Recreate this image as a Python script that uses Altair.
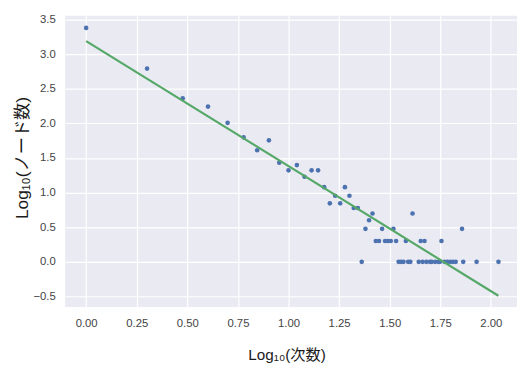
import altair as alt
import pandas as pd

# degree (k) and number of nodes with that degree
degree = [1, 2, 3, 4, 5, 6, 7, 8, 9, 10,
          11, 12, 13, 14, 15, 16, 17, 18, 19, 20,
          21, 22, 23, 24, 25, 26, 27, 28, 29, 30,
          31, 32, 33, 34, 35, 36, 37, 38, 39, 40,
          41, 44, 45, 46, 47, 48, 50, 51, 53, 55,
          56, 57, 59, 61, 63, 65, 67, 72, 73, 85, 109]
node_count = [2400, 620, 230, 175, 102, 63, 41, 57, 27, 21,
              25, 17, 21, 21, 12, 7, 9, 7, 12, 9,
              6, 6, 1, 3, 4, 5, 2, 2, 3, 2,
              2, 2, 3, 2, 1, 1, 1, 2, 1, 1,
              5, 1, 2, 1, 2, 1, 1, 1, 1, 1,
              1, 2, 1, 1, 1, 1, 1, 3, 1, 1, 1]

# fitted regression line end points (log10 space)
fit_x = [0.0, 2.037]
fit_y = [3.19, -0.49]

x_ticks = [0.0, 0.25, 0.5, 0.75, 1.0, 1.25, 1.5, 1.75, 2.0]
y_ticks = [-0.5, 0.0, 0.5, 1.0, 1.5, 2.0, 2.5, 3.0, 3.5]

points = pd.DataFrame({"degree": degree, "count": node_count})
fit = pd.DataFrame({"x": fit_x, "y": fit_y})

FONT = "Liberation Sans, Noto Sans CJK JP"
xscale = alt.Scale(domain=[-0.104, 2.129], nice=False, zero=False)
yscale = alt.Scale(domain=[-0.654, 3.557], nice=False, zero=False)

common_axis = dict(grid=True, gridColor="white", gridWidth=1.2, domain=False,
                   ticks=False, labelFont=FONT, labelFontSize=11.5,
                   labelColor="#444444", labelOverlap=False, labelFlush=False,
                   titleFont=FONT, titleFontWeight="normal", titleColor="#1a1a1a")

xaxis = alt.Axis(title="Log₁₀(次数)", values=x_ticks, format=".2f",
                 labelPadding=11, titleX=225, titleY=53, titleFontSize=15.5,
                 titleBaseline="alphabetic", titleAlign="center", **common_axis)
yaxis = alt.Axis(title="Log₁₀(ノード数)", values=y_ticks, format=".1f",
                 labelPadding=10, titleX=-38, titleY=144, titleAngle=270,
                 titleFontSize=17.5,
                 titleBaseline="alphabetic", titleAlign="center", **common_axis)

pts = alt.Chart(points).transform_calculate(
    lx="log(datum.degree)/LN10", ly="log(datum.count)/LN10"
).mark_circle(size=22, color="#4C72B0", opacity=1).encode(
    x=alt.X("lx:Q", scale=xscale, axis=xaxis),
    y=alt.Y("ly:Q", scale=yscale, axis=yaxis),
)

line = alt.Chart(fit).mark_line(color="#55A868", strokeWidth=2.2).encode(
    x=alt.X("x:Q", scale=xscale, axis=xaxis),
    y=alt.Y("y:Q", scale=yscale, axis=yaxis),
)

chart = alt.layer(pts, line).properties(
    width=459, height=296,
    autosize=alt.AutoSizeParams(type="none"),
    padding={"left": 58, "top": 5, "right": 0, "bottom": 57},
    background="white",
).configure_view(fill="#EAEAF2", stroke=None)

chart.save("out.html", embed_options={"renderer": "svg", "actions": False})
